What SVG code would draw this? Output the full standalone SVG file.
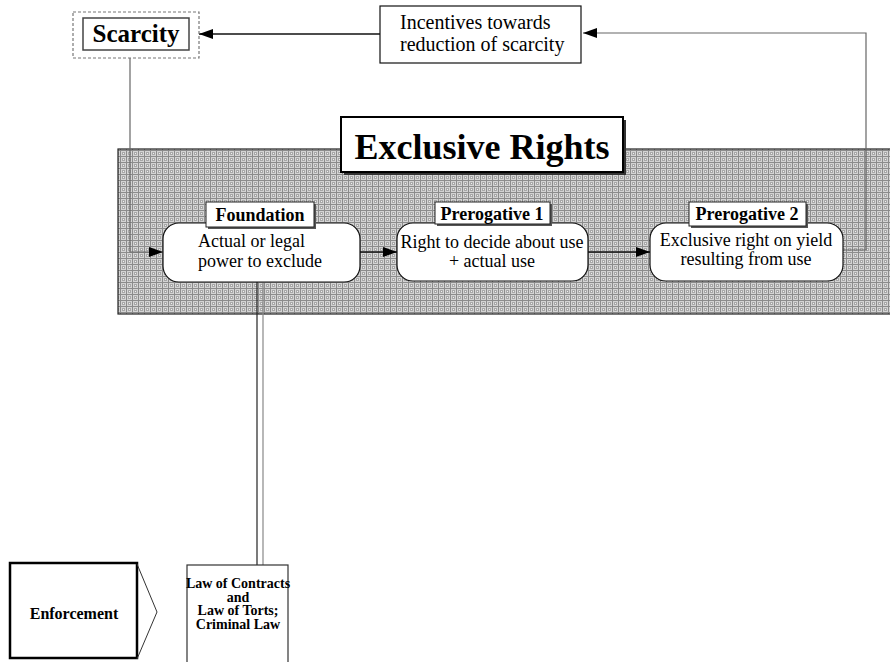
<svg xmlns="http://www.w3.org/2000/svg" width="890" height="662" viewBox="0 0 890 662">
  <style>
    .t { font-family: "Liberation Serif", "Times New Roman", serif; fill: #000; }
    .b { font-weight: bold; }
    .box { fill: #fff; stroke: #111; stroke-width: 1.2; }
    .lbl { fill: #fff; stroke: #222; stroke-width: 1; }
    .conn { fill: none; stroke: #111; stroke-width: 1.3; }
    .connG { fill: none; stroke: #666; stroke-width: 1.2; }
  </style>
  <defs>
    <!-- halftone texture of the shaded band -->
    <pattern id="halftone" width="6" height="6" patternUnits="userSpaceOnUse">
      <rect width="6" height="6" fill="#d4d4d4"/>
      <rect x="0" y="0" width="6" height="1" fill="#8c8c8c"/>
      <rect x="0" y="0" width="1" height="6" fill="#8c8c8c"/>
      <rect x="2" y="2" width="3" height="3" fill="#a8a8a8"/>
      <rect x="3" y="3" width="1" height="1" fill="#f0f0f0"/>
    </pattern>
    <marker id="arr" viewBox="0 0 14 10" refX="14" refY="5" markerWidth="14" markerHeight="10" markerUnits="userSpaceOnUse" orient="auto">
      <path d="M0,0 L14,5 L0,10 Z" fill="#000"/>
    </marker>
  </defs>

  <!-- shaded band behind the rights -->
  <g id="band">
    <rect x="118" y="149" width="774" height="165" fill="url(#halftone)" stroke="#222" stroke-width="1.2"/>
  </g>

  <!-- connectors -->
  <g id="connectors">
    <line class="conn" x1="380" y1="34" x2="199" y2="34" marker-end="url(#arr)"/>
    <polyline class="connG" points="843,250 866,250 866,33 583,33" marker-end="url(#arr)"/>
    <polyline class="connG" points="130,58 130,252 163,252" marker-end="url(#arr)"/>
    <line class="conn" x1="360" y1="252" x2="397" y2="252" marker-end="url(#arr)"/>
    <line class="conn" x1="588" y1="252" x2="650" y2="252" marker-end="url(#arr)"/>
    <line x1="257" y1="282" x2="257" y2="565" stroke="#222" stroke-width="1.2"/>
    <line x1="263" y1="282" x2="263" y2="565" stroke="#888" stroke-width="1.2"/>
  </g>

  <g id="scarcity">
    <rect x="73" y="12" width="126" height="46" fill="#fff" stroke="#777" stroke-width="1.2" stroke-dasharray="3 2"/>
    <rect x="83" y="18" width="106" height="32" fill="#fff" stroke="#444" stroke-width="1.5"/>
    <text class="t b" x="136" y="42" font-size="25" text-anchor="middle">Scarcity</text>
  </g>

  <g id="incentives">
    <rect class="box" x="380" y="6" width="201" height="57"/>
    <text class="t" x="400" y="29" font-size="20">Incentives towards</text>
    <text class="t" x="400" y="51" font-size="20">reduction of scarcity</text>
  </g>

  <g id="exclusive-rights">
    <rect x="344" y="120" width="282" height="55" fill="#333"/>
    <rect x="341" y="117" width="282" height="55" fill="#fff" stroke="#000" stroke-width="2"/>
    <text class="t b" x="482" y="159" font-size="36" text-anchor="middle">Exclusive Rights</text>
  </g>

  <g id="foundation">
    <rect class="box" x="163" y="223" width="197" height="59" rx="16"/>
    <rect x="208" y="204" width="108" height="25" fill="#555"/>
    <rect class="lbl" x="206" y="202" width="108" height="25"/>
    <text class="t b" x="260" y="221" font-size="18" text-anchor="middle">Foundation</text>
    <text class="t" x="198" y="247" font-size="18">Actual or legal</text>
    <text class="t" x="198" y="267" font-size="18">power to exclude</text>
  </g>

  <g id="prerogative-1">
    <rect class="box" x="397" y="223" width="191" height="58" rx="16"/>
    <rect x="437" y="204" width="115" height="22" fill="#555"/>
    <rect class="lbl" x="435" y="202" width="115" height="22"/>
    <text class="t b" x="492" y="220" font-size="18" text-anchor="middle">Prerogative 1</text>
    <text class="t" x="492" y="248" font-size="18" text-anchor="middle">Right to decide about use</text>
    <text class="t" x="492" y="267" font-size="18" text-anchor="middle">+ actual use</text>
  </g>

  <g id="prerogative-2">
    <rect class="box" x="650" y="223" width="193" height="58" rx="16"/>
    <rect x="691" y="204" width="117" height="24" fill="#555"/>
    <rect class="lbl" x="689" y="202" width="117" height="24"/>
    <text class="t b" x="747" y="220" font-size="18" text-anchor="middle">Prerogative 2</text>
    <text class="t" x="746" y="246" font-size="18" text-anchor="middle">Exclusive right on yield</text>
    <text class="t" x="746" y="265" font-size="18" text-anchor="middle">resulting from use</text>
  </g>

  <g id="enforcement">
    <rect x="10" y="563" width="127" height="95" fill="#fff" stroke="#000" stroke-width="2.5"/>
    <polyline points="137,564 157,612 137,659" fill="none" stroke="#333" stroke-width="1"/>
    <text class="t b" x="74" y="619" font-size="16" text-anchor="middle">Enforcement</text>
  </g>

  <g id="law">
    <rect x="187" y="565" width="101" height="100" fill="#fff" stroke="#333" stroke-width="1.2"/>
    <text class="t b" x="238" y="588" font-size="14" text-anchor="middle">Law of Contracts</text>
    <text class="t b" x="238" y="601.5" font-size="14" text-anchor="middle">and</text>
    <text class="t b" x="238" y="615" font-size="14" text-anchor="middle">Law of Torts;</text>
    <text class="t b" x="238" y="628.5" font-size="14" text-anchor="middle">Criminal Law</text>
  </g>
</svg>
